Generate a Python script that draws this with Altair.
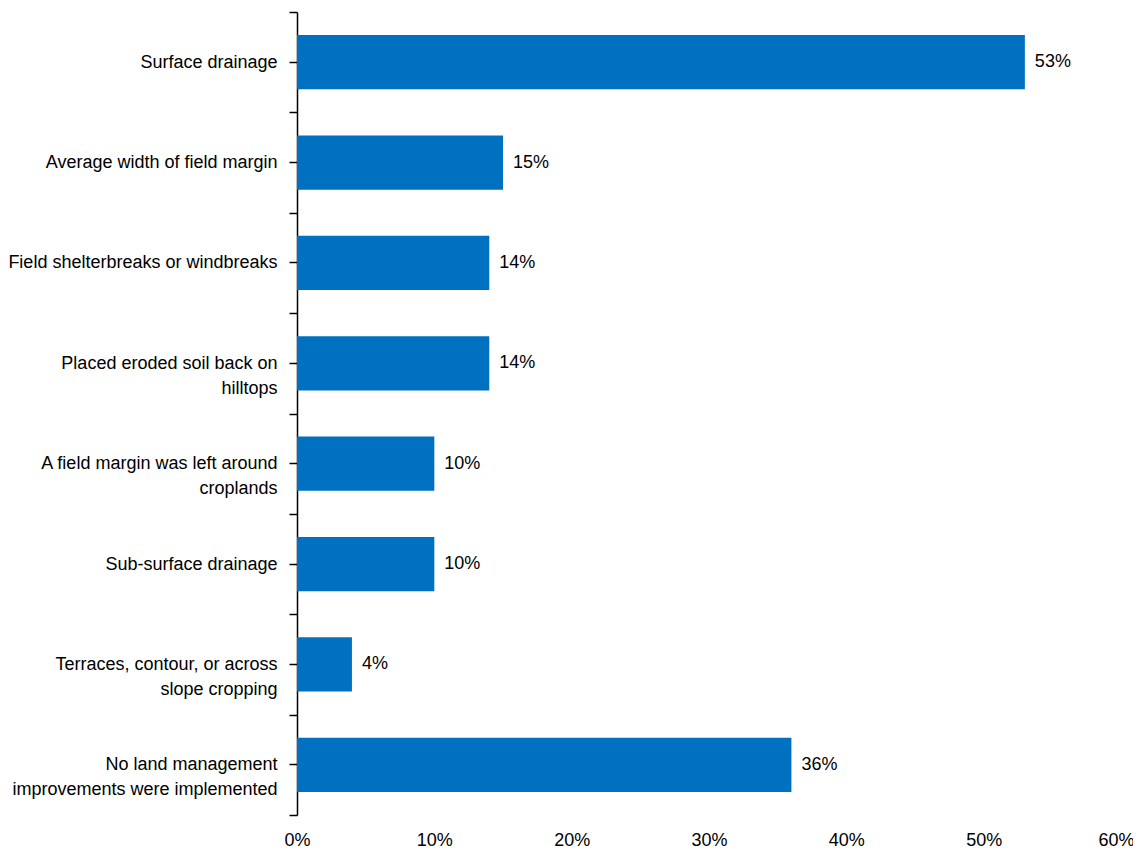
import altair as alt
import pandas as pd

categories = [
    "Surface drainage",
    "Average width of field margin",
    "Field shelterbreaks or windbreaks",
    "Placed eroded soil back on|hilltops",
    "A field margin was left around|croplands",
    "Sub-surface drainage",
    "Terraces, contour, or across|slope cropping",
    "No land management|improvements were implemented",
]
values = [0.53, 0.15, 0.14, 0.14, 0.10, 0.10, 0.04, 0.36]
labels = ["53%", "15%", "14%", "14%", "10%", "10%", "4%", "36%"]

df = pd.DataFrame({"cat": categories, "val": values, "lab": labels})

FONT = "Liberation Sans"
BLUE = "#0070C0"

yscale = alt.Scale(domain=categories, paddingInner=0, paddingOuter=0)
xscale = alt.Scale(domain=[0, 0.6], nice=False)

base = alt.Chart(df)

bars = base.mark_bar(color=BLUE, height={"band": 0.54}).encode(
    x=alt.X("val:Q", scale=xscale,
            axis=alt.Axis(format=".0%", values=[0, 0.1, 0.2, 0.3, 0.4, 0.5, 0.6],
                          domain=False, ticks=False, grid=False, title=None,
                          labelFont=FONT, labelFontSize=18, labelColor="#000000",
                          labelPadding=16, labelFlush=True, labelFlushOffset=13)),
    y=alt.Y("cat:N", scale=yscale, sort=categories,
            axis=alt.Axis(title=None, tickBand="extent", domainColor="#000000",
                          domainWidth=1.5, tickColor="#000000", tickWidth=1.5,
                          tickSize=8, labelFont=FONT, labelFontSize=18,
                          labelColor="#000000", labelPadding=12,
                          labelExpr="split(datum.label, '|')", labelLineHeight=25,
                          labelLimit=400)),
)

ghost = base.mark_bar(opacity=0).encode(
    x=alt.X("val:Q", scale=xscale),
    y=alt.Y("cat:N", scale=yscale, sort=categories,
            axis=alt.Axis(title=None, orient="right", offset=-832, labels=False,
                          domain=False, tickColor="#000000", tickWidth=1.5,
                          tickSize=8)),
)

text = base.mark_text(align="left", baseline="middle", dx=10, font=FONT,
                      fontSize=18, color="#000000").encode(
    x=alt.X("val:Q", scale=xscale),
    y=alt.Y("cat:N", scale=yscale, sort=categories, axis=None),
    text="lab:N",
)

chart = alt.layer(bars, ghost, text).resolve_axis(y="independent").properties(
    width=824, height=803,
    autosize=alt.AutoSizeParams(type="none"),
    padding={"left": 289, "top": 4, "right": 12, "bottom": 36},
).configure_view(stroke=None)

chart.save("out.html", embed_options={"renderer": "svg", "actions": False})
